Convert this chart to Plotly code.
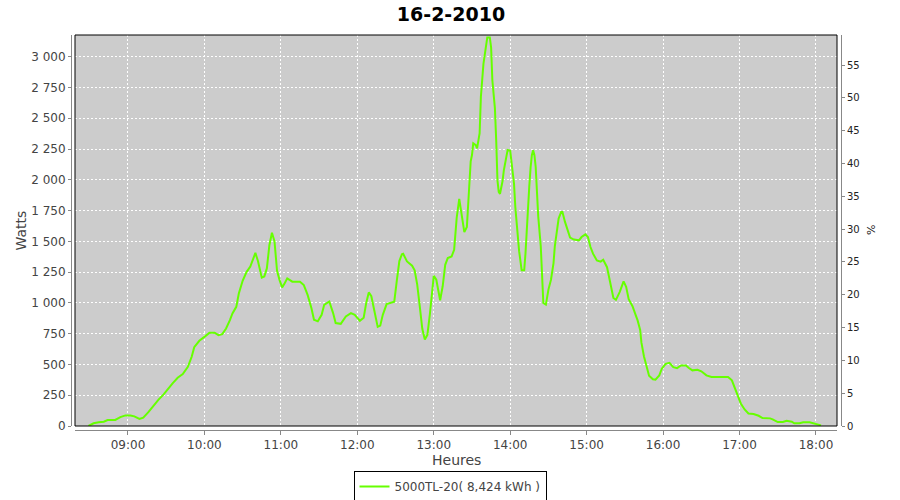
import plotly.graph_objects as go

date = "2010-02-16"
title_text = "16-2-2010"
series_name = "5000TL-20( 8,424 kWh )"
x_title = "Heures"
y_title = "Watts"
y2_title = "%"

times = [
    "08:29", "08:33", "08:37", "08:41", "08:44", "08:50", "08:54", "08:58", "09:02", "09:05",
    "09:09", "09:12", "09:16", "09:20", "09:24", "09:28", "09:31", "09:35", "09:39", "09:43",
    "09:47", "09:50", "09:52", "09:56", "10:00", "10:04", "10:08", "10:11", "10:14", "10:17",
    "10:20", "10:22", "10:25", "10:27", "10:30", "10:33", "10:36", "10:38", "10:40", "10:42",
    "10:45", "10:47", "10:49", "10:51", "10:53", "10:55", "10:57", "10:59", "11:01", "11:03",
    "11:05", "11:09", "11:15", "11:18", "11:21", "11:24", "11:26", "11:29", "11:32", "11:34",
    "11:38", "11:41", "11:43", "11:47", "11:51", "11:55", "11:58", "12:02", "12:05", "12:07",
    "12:09", "12:11", "12:14", "12:16", "12:18", "12:20", "12:23", "12:27", "12:29", "12:31",
    "12:33", "12:35", "12:36", "12:39", "12:43", "12:45", "12:47", "12:49", "12:51", "12:53",
    "12:55", "12:57", "12:59", "13:00", "13:02", "13:04", "13:05", "13:07", "13:09", "13:11",
    "13:14", "13:16", "13:18", "13:20", "13:22", "13:24", "13:26", "13:27", "13:29", "13:30",
    "13:31", "13:33", "13:34", "13:36", "13:37", "13:39", "13:40", "13:42", "13:44", "13:45",
    "13:46", "13:48", "13:49", "13:50", "13:51", "13:52", "13:54", "13:55", "13:57", "13:58",
    "14:00", "14:01", "14:03", "14:04", "14:06", "14:07", "14:09", "14:11", "14:12", "14:13",
    "14:14", "14:15", "14:16", "14:17", "14:18", "14:19", "14:20", "14:21", "14:22", "14:24",
    "14:25", "14:26", "14:28", "14:30", "14:32", "14:34", "14:35", "14:37", "14:38", "14:40",
    "14:41", "14:43", "14:45", "14:47", "14:50", "14:54", "14:56", "14:59", "15:01", "15:03",
    "15:05", "15:08", "15:11", "15:13", "15:16", "15:18", "15:21", "15:23", "15:26", "15:29",
    "15:31", "15:33", "15:36", "15:38", "15:40", "15:42", "15:43", "15:45", "15:47", "15:49",
    "15:52", "15:54", "15:57", "15:59", "16:02", "16:05", "16:08", "16:11", "16:14", "16:18",
    "16:20", "16:23", "16:27", "16:30", "16:34", "16:38", "16:45", "16:51", "16:54", "16:56",
    "16:59", "17:01", "17:04", "17:07", "17:11", "17:15", "17:18", "17:24", "17:26", "17:30",
    "17:34", "17:37", "17:41", "17:43", "17:47", "17:50", "17:55", "17:59", "18:02", "18:04",
]

watts = [
    0, 22, 30, 35, 49, 49, 72, 86, 86, 78,
    57, 68, 112, 168, 214, 257, 297, 346, 392, 422,
    481, 562, 640, 692, 724, 758, 758, 738, 746, 792,
    860, 914, 968, 1076, 1180, 1250, 1295, 1360, 1406, 1340,
    1205, 1215, 1280, 1470, 1570, 1500, 1260, 1185, 1126, 1160,
    1199, 1172, 1172, 1145, 1065, 957, 863, 850, 903, 984,
    1011, 917, 836, 830, 890, 917, 903, 855, 880, 1000,
    1085, 1054, 892, 805, 815, 903, 990, 1005, 1010, 1180,
    1340, 1395, 1399, 1337, 1302, 1265, 1150, 973, 790, 702,
    740, 913, 1130, 1220, 1188, 1081, 1021, 1135, 1309, 1364,
    1377, 1431, 1690, 1845, 1700, 1575, 1617, 1831, 2150, 2201,
    2296, 2282, 2255, 2378, 2675, 2942, 3022, 3156, 3156, 3076,
    2808, 2580, 2323, 1995, 1901, 1886, 1990, 2077, 2188, 2242,
    2236, 2133, 1968, 1780, 1520, 1420, 1266, 1266, 1402, 1618,
    1740, 1950, 2100, 2200, 2240, 2200, 2105, 1900, 1703, 1458,
    1215, 1000, 986, 1108, 1188, 1323, 1458, 1645, 1685, 1739,
    1739, 1658, 1590, 1530, 1514, 1508, 1535, 1557, 1535, 1454,
    1400, 1345, 1335, 1350, 1290, 1190, 1040, 1025, 1090, 1175,
    1130, 1030, 973, 915, 858, 780, 677, 565, 476, 409,
    380, 376, 411, 465, 505, 513, 478, 470, 492, 492,
    473, 452, 457, 444, 411, 398, 398, 398, 371, 317,
    237, 183, 134, 102, 97, 83, 65, 62, 54, 32,
    32, 43, 35, 22, 22, 30, 30, 19, 11, 5,
]

x_range = [f"{date} 08:18:25", f"{date} 18:16:30"]
watts_range = [0, 3176]
pct_range = [0, 59.6]

xs = [f"{date} {t}" for t in times]

fig = go.Figure()
fig.add_trace(go.Scatter(
    x=xs, y=watts, mode="lines", name=series_name,
    line=dict(color="#66ff00", width=2),
))
fig.add_trace(go.Scatter(
    x=[xs[0]], y=[None], yaxis="y2", mode="lines",
    showlegend=False, hoverinfo="skip",
))

W, H = 900, 500
ml, mr, mt, mb = 71, 59, 35, 70
pw = W - ml - mr
ph = H - mt - mb
off = 4

grid = dict(showgrid=True, gridcolor="white", gridwidth=1, griddash="2px,2px", zeroline=False)

fig.update_layout(
    width=W, height=H,
    margin=dict(l=ml, r=mr, t=mt, b=mb, pad=0, autoexpand=False),
    paper_bgcolor="white",
    plot_bgcolor="#cccccc",
    font=dict(family="DejaVu Sans", color="#444444", size=12),
    separators=", ",
    title=dict(text=f"<b>{title_text}</b>", x=451 / W, xref="container", xanchor="center",
               y=1 - 14 / H, yref="container", yanchor="middle",
               font=dict(family="DejaVu Sans", size=19, color="black")),
    xaxis=dict(
        type="date", range=x_range, domain=[off / pw, 1 - off / pw],
        anchor="free", position=0, automargin=False,
        tickformat="%H:%M", dtick=3600000, tick0=f"{date} 09:00",
        showline=True, linecolor="#888888", linewidth=1,
        ticks="outside", ticklen=4, tickcolor="#888888",
        tickfont=dict(size=12, color="#444444"),
        **grid,
    ),
    yaxis=dict(
        range=watts_range, domain=[off / ph, 1],
        anchor="free", position=0, automargin=False,
        dtick=250, tick0=0, separatethousands=True,
        showline=True, linecolor="#888888", linewidth=1,
        ticks="outside", ticklen=3, tickcolor="#888888",
        tickfont=dict(size=12, color="#444444"),
        **grid,
    ),
    yaxis2=dict(
        range=pct_range, overlaying="y", side="right",
        anchor="free", position=1, automargin=False,
        dtick=5, tick0=0, showgrid=False, zeroline=False,
        showline=True, linecolor="#888888", linewidth=1,
        ticks="outside", ticklen=3, tickcolor="#888888",
        tickfont=dict(size=10, color="#222222"),
    ),
    legend=dict(
        orientation="h", xref="container", yref="container",
        x=0.5, xanchor="center", y=1 - 471 / H, yanchor="top",
        bordercolor="black", borderwidth=1, bgcolor="white",
        font=dict(size=12, color="#444444"), itemwidth=30,
        tracegroupgap=0, valign="middle",
    ),
    showlegend=True,
    shapes=[dict(type="rect", xref="x domain", yref="y domain", x0=0, x1=1, y0=0, y1=1,
                 line=dict(color="black", width=1), fillcolor="rgba(0,0,0,0)", layer="above")],
    annotations=[
        dict(text=y_title, xref="paper", yref="paper", x=(20 - ml) / pw, y=(H - mb - 230.5) / ph,
             textangle=-90, showarrow=False, xanchor="center", yanchor="middle",
             font=dict(size=14, color="#444444")),
        dict(text=x_title, xref="paper", yref="paper", x=(456 - ml) / pw, y=(H - mb - 460) / ph,
             showarrow=False, xanchor="center", yanchor="middle",
             font=dict(size=14, color="#444444")),
        dict(text=y2_title, xref="paper", yref="paper", x=(871 - ml) / pw, y=(H - mb - 230) / ph,
             textangle=-90, showarrow=False, xanchor="center", yanchor="middle",
             font=dict(size=11, color="#222222")),
    ],
)

fig.write_html(
    "out.html",
    config={"responsive": False, "displayModeBar": False},
    post_script="document.body.style.margin='0px';document.body.style.overflow='hidden';",
)
